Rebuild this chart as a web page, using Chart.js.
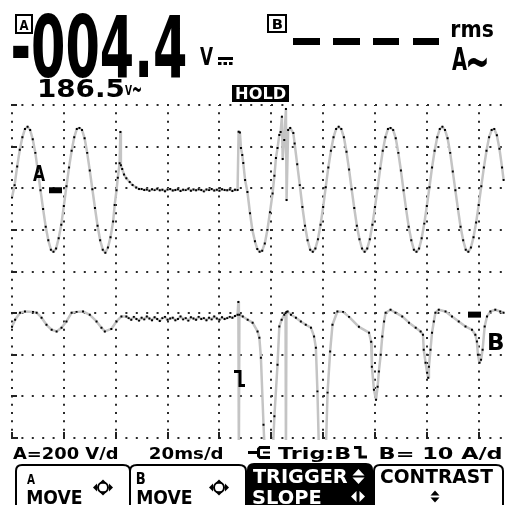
<!DOCTYPE html>
<html><head><meta charset="utf-8">
<script src="https://cdn.jsdelivr.net/npm/chart.js@4.4.1/dist/chart.umd.min.js"></script>
<style>html,body{margin:0;padding:0;background:#fff;overflow:hidden}canvas{display:block}</style>
</head><body>
<canvas id="c" width="505" height="505"></canvas>
<script>
// ---- time axis (ms), 20 ms / div ----
const xGridTicks = [0, 20, 40, 60, 80, 100, 120, 140, 160, 180];
const yGridTicks = [-4, -3, -2, -1, 0, 1, 2, 3, 4];
const voltsPerDivA = 200;   // A = 200 V/div
const ampsPerDivB = 10;     // B = 10 A/div
const zeroDivA = 2;         // A zero marker level (divisions)
const zeroDivB = -1;        // B zero marker level (divisions)

// ---- trace A : voltage (V) ----
const timeA = [0,1,2,3,4,5,6,7,8,9,10,11,12,13,14,15,16,17,18,19,20,21,22,23,24,25,26,27,28,29,30,31,32,33,34,35,36,37,38,39,
 39.6,40.3,40.8,41.5,41.8,42.0,42.5,43.2,44.1,45.4,46.5,47.9,49,
 50,51,52,53,54,55,56,57,58,59,60,61,62,63,64,65,66,67,68,69,70,71,72,73,74,75,76,77,78,79,80,81,82,83,84,85,86,
 87.0,87.4,87.9,88.3,88.8,89.2,89.9,90.8,91.8,92.7,93.7,94.6,95.5,96.5,97.5,98.5,99.5,100.5,101.2,101.8,102.4,103.1,103.6,104.1,104.4,105.0,105.65,105.9,106.5,107.3,108.5,
 109,110,111,112,113,114,115,116,117,118,119,120,121,122,123,124,125,126,127,128,129,130,131,132,133,134,135,136,137,138,
 139,140,141,142,143,144,145,146,147,148,149,150,151,152,153,154,155,156,157,158,159,160,161,162,163,164,165,166,167,168,
 169,170,171,172,173,174,175,176,177,178,179,180,181,182,183,184,185,186,187,188,189,189.6];
const voltA = [-45,15,105,185,245,285,295,280,235,170,80,-10,-100,-185,-250,-295,-305,-290,-240,-175,
 -85,10,100,180,245,285,290,280,240,170,85,-5,-95,-180,-250,-295,-310,-285,-235,-160,
 -80,-10,50,120,270,110,92,66,48,30,16,4,-4,
 -4,-8,-6,-12,-5,-9,-3,-10,-7,-14,-6,-4,-11,-8,-5,-13,-7,-9,-3,-12,-6,-10,-5,-8,-15,-6,-9,-4,-11,-7,-12,-5,-8,-10,-6,-13,-7,
 -8,272,268,193,160,121,40,-18,-120,-200,-255,-292,-305,-300,-265,-200,-115,-25,60,145,193,256,270,344,140,232,381,-56,280,290,265,
 215,115,15,-90,-180,-250,-295,-305,-290,-245,-175,-90,5,100,180,245,285,295,285,245,
 175,90,-5,-95,-180,-245,-290,-305,-290,-245,-175,-90,0,95,180,245,285,290,280,240,
 170,85,-10,-100,-185,-250,-295,-305,-290,-240,-170,-85,5,100,180,245,285,295,280,240,
 170,80,-10,-100,-185,-250,-295,-305,-285,-235,-165,-80,10,100,180,245,280,285,255,190,100,40];

// ---- trace B : current (A) ----
const timeB = [0,1.2,3.1,5.0,8.1,9.5,11.4,13.3,15.3,17.2,19.1,21.0,23.0,24.9,27.4,30.0,32.6,34.5,35.8,38.3,40.3,42.2,44.1,
 45,46,47,48,49,50,51,52,53,54,55,56,57,58,59,60,61,62,63,64,65,66,67,68,69,70,71,72,73,74,75,76,77,78,79,80,81,82,83,84,85,86,
 87.0,87.3,87.5,87.7,89.0,90.9,92.8,94.7,95.4,96.0,97.0,97.7,99.2,100.4,101.2,102.4,103.1,104.0,105.0,105.5,105.65,105.85,106.3,107.6,
 109.5,111.4,113.3,115.3,116.5,117.2,117.8,118.5,120.0,121.0,121.7,122.7,123.6,125.5,127.7,130.0,133.8,137.7,138.5,138.8,139.6,140.4,
 141.0,141.5,142.2,142.8,143.5,144.1,146.0,147.9,150.5,153.1,155.7,157.6,158.5,158.8,159.5,160.1,160.5,160.8,161.4,162.0,162.7,163.3,
 164.6,167.2,169.7,172.3,174.9,177.4,178.7,179.3,179.7,180.3,180.9,181.5,182.3,183.2,184.5,186.4,188.3,189.6];
const ampB = [-3.3,-1.6,0.1,0.4,0.3,0.1,-1.1,-2.8,-4.0,-4.4,-3.5,-2.0,0.1,0.3,0.4,-0.4,-2.0,-3.5,-4.4,-3.8,-2.0,-0.8,-0.8,
 -1.2,-1.6,-0.9,-1.4,-1.8,-1.1,-1.5,-0.8,-1.3,-1.7,-1.0,-1.4,-1.9,-1.2,-0.9,-1.6,-1.3,-1.1,-1.7,-1.4,-0.8,-1.5,-1.2,-1.8,-1.0,-1.3,-1.6,-0.9,-1.4,-1.2,-1.7,-1.1,-1.5,-0.8,-1.3,-1.6,-1.0,-1.4,-1.2,-0.9,-1.1,-0.7,
 -0.4,2.7,-36,-0.4,-0.8,-1.6,-2.3,-4.4,-5.9,-10.7,-26.8,-36,-38,-36,-24.8,-12.4,-3.2,-1.6,-0.4,0.0,-36,0.3,0.4,-0.4,
 -1.1,-2.0,-2.8,-3.5,-5.6,-8.3,-18.8,-36,-38,-34,-19.1,-9.2,-2.8,0.4,0.3,-0.9,-3.3,-4.7,-6.9,-12.9,-18.4,-20.8,
 -17.7,-14.0,-10.0,-5.6,-2.0,0.1,0.8,0.1,-0.8,-2.3,-3.5,-4.4,-5.2,-8.8,-11.9,-14.3,-15.5,-12.9,-8.8,-4.7,-2.0,0.1,
 0.8,0.4,-0.8,-2.0,-3.2,-4.0,-5.2,-6.8,-10.0,-11.9,-11.2,-8.8,-3.2,-0.8,0.4,0.8,0.4,0.1];

// ---- readout texts ----
const readA = '-004.4';
const readA2 = '186.5';
const infoTexts = ['A=200 V/d', '20ms/d', 'Trig:B', 'B= 10 A/d'];
const softKeys = [['A', 'MOVE'], ['B', 'MOVE'], ['TRIGGER', 'SLOPE'], ['CONTRAST', '']];

// build datasets
function build(ts, vs, perDiv, zero) {
  const n = Math.min(ts.length, vs.length);
  const out = [];
  for (let i = 0; i < n; i++) out.push({x: ts[i], y: zero + vs[i] / perDiv});
  return out;
}
const dataA = build(timeA, voltA, voltsPerDivA, zeroDivA);
const dataB = build(timeB, ampB, ampsPerDivB, zeroDivB);

const F = '"DejaVu Sans", "Liberation Sans", sans-serif';
function fit(ctx, s, x1, x2, base, size, color) {
  ctx.save();
  ctx.font = 'bold ' + size + 'px ' + F;
  const m = ctx.measureText(s);
  const w = m.actualBoundingBoxLeft + m.actualBoundingBoxRight;
  const sx = (x2 - x1) / w;
  ctx.translate(x1 + m.actualBoundingBoxLeft * sx, base);
  ctx.scale(sx, 1);
  ctx.fillStyle = color || '#000';
  ctx.fillText(s, 0, 0);
  ctx.restore();
}
function fitBox(ctx, s, x1, y1, x2, y2, color) {
  ctx.save();
  ctx.font = 'bold 100px ' + F;
  const m = ctx.measureText(s);
  const w = m.actualBoundingBoxLeft + m.actualBoundingBoxRight;
  const h = m.actualBoundingBoxAscent + m.actualBoundingBoxDescent;
  const sx = (x2 - x1) / w, sy = (y2 - y1) / h;
  ctx.translate(x1 + m.actualBoundingBoxLeft * sx, y1 + m.actualBoundingBoxAscent * sy);
  ctx.scale(sx, sy);
  ctx.fillStyle = color || '#000';
  ctx.fillText(s, 0, 0);
  ctx.restore();
}
function tri(ctx, pts, color) {
  ctx.beginPath(); ctx.moveTo(pts[0], pts[1]); ctx.lineTo(pts[2], pts[3]); ctx.lineTo(pts[4], pts[5]); ctx.closePath();
  ctx.fillStyle = color; ctx.fill();
}
function moveIcon(ctx, cx, cy) {
  ctx.save();
  ctx.strokeStyle = '#000'; ctx.lineWidth = 2;
  ctx.beginPath(); ctx.arc(cx, cy, 5, 0, Math.PI * 2); ctx.stroke();
  tri(ctx, [cx - 10, cy, cx - 6, cy - 4, cx - 6, cy + 4], '#000');
  tri(ctx, [cx + 10, cy, cx + 6, cy - 4, cx + 6, cy + 4], '#000');
  tri(ctx, [cx, cy - 8, cx - 4, cy - 4, cx + 4, cy - 4], '#000');
  tri(ctx, [cx, cy + 8, cx - 4, cy + 4, cx + 4, cy + 4], '#000');
  ctx.restore();
}

const gridExtras = {
  id: 'gridExtras',
  beforeDatasetsDraw(chart) {
    const ctx = chart.ctx, xs = chart.scales.x, ys = chart.scales.y, a = chart.chartArea;
    ctx.save();
    ctx.fillStyle = '#222';
    yGridTicks.forEach(v => { const y = Math.round(ys.getPixelForValue(v)); ctx.fillRect(a.left - 1, y - 1, 6, 2); });
    xGridTicks.forEach(v => { const x = Math.round(xs.getPixelForValue(v)); ctx.fillRect(x - 1, a.bottom - 6, 2, 7); });
    ctx.fillRect(a.left - 1, a.bottom - 1, 7, 2);
    ctx.restore();
  },
  afterDraw(chart) {
    const ctx = chart.ctx, ys = chart.scales.y, xs = chart.scales.x;
    ctx.save();
    // --- top readout A ---
    ctx.strokeStyle = '#000'; ctx.lineWidth = 2;
    ctx.strokeRect(16, 15, 16, 18);
    fitBox(ctx, 'A', 19.5, 19, 28.5, 30);
    fitBox(ctx, readA, 13, 13, 185, 78);
    fitBox(ctx, 'V', 200, 47, 213, 65);
    ctx.fillStyle = '#000';
    ctx.fillRect(218, 57, 15, 3);
    for (let k = 0; k < 3; k++) ctx.fillRect(218 + k * 5.5, 62, 3.5, 3);
    fitBox(ctx, readA2, 40, 78, 123, 97);
    fitBox(ctx, 'V', 125, 85, 132, 95);
    fitBox(ctx, '~', 133, 87, 141, 93);
    // HOLD
    ctx.fillStyle = '#000'; ctx.fillRect(232, 85, 57, 17);
    fitBox(ctx, 'HOLD', 236.5, 87.5, 285.5, 99.5, '#fff');
    // --- top readout B ---
    ctx.strokeRect(268, 15, 18, 17);
    fitBox(ctx, 'B', 273, 19, 282, 29);
    ctx.fillStyle = '#000';
    [[293, 27], [333, 27], [373, 26], [413, 26]].forEach(d => ctx.fillRect(d[0], 38, d[1], 7));
    fitBox(ctx, 'rms', 452, 24, 493, 37);
    fitBox(ctx, 'A', 452, 47, 467, 70.5);
    fitBox(ctx, '~', 468, 57, 487, 68);
    // --- trace markers ---
    const yA0 = ys.getPixelForValue(zeroDivA), yB0 = ys.getPixelForValue(zeroDivB);
    ctx.fillStyle = '#000';
    ctx.fillRect(49, yA0 - 1, 13, 6);
    fitBox(ctx, 'A', 33, yA0 - 23, 45, yA0 - 7);
    ctx.fillRect(468, yB0 - 1.5, 13, 6);
    fitBox(ctx, 'B', 489, yB0 + 20, 503, yB0 + 37);
    // trigger marker
    ctx.strokeStyle = '#000'; ctx.lineWidth = 3;
    ctx.beginPath(); ctx.moveTo(234, 371.5); ctx.lineTo(240, 371.5); ctx.lineTo(240, 385.5); ctx.lineTo(245, 385.5); ctx.stroke();
    // --- info line ---
    fit(ctx, infoTexts[0], 13, 118, 458.5, 16);
    fit(ctx, infoTexts[1], 150, 223, 458.5, 16);
    ctx.lineWidth = 3;
    ctx.beginPath(); ctx.moveTo(248, 452.5); ctx.lineTo(257, 452.5); ctx.stroke();
    ctx.beginPath(); ctx.moveTo(270, 447.5); ctx.lineTo(260, 447.5); ctx.lineTo(258.5, 449); ctx.lineTo(258.5, 456); ctx.lineTo(260, 457.5); ctx.lineTo(270, 457.5); ctx.stroke();
    ctx.lineWidth = 2;
    ctx.beginPath(); ctx.moveTo(263, 452.5); ctx.lineTo(270, 452.5); ctx.stroke();
    fit(ctx, infoTexts[2], 278, 351, 458.5, 16);
    ctx.lineWidth = 3;
    ctx.beginPath(); ctx.moveTo(354, 447.5); ctx.lineTo(360, 447.5); ctx.lineTo(360, 457); ctx.lineTo(367, 457); ctx.stroke();
    fit(ctx, infoTexts[3], 380, 502, 458.5, 16);
    // --- soft keys ---
    ctx.lineWidth = 2; ctx.strokeStyle = '#000';
    ctx.beginPath();
    ctx.moveTo(16, 506); ctx.lineTo(16, 471); ctx.quadraticCurveTo(16, 465, 22, 465); ctx.lineTo(123, 465); ctx.quadraticCurveTo(130, 465, 130, 471); ctx.lineTo(130, 506);
    ctx.moveTo(130, 471); ctx.quadraticCurveTo(130, 465, 137, 465); ctx.lineTo(239, 465); ctx.quadraticCurveTo(246, 465, 246, 471); ctx.lineTo(246, 506);
    ctx.moveTo(374, 506); ctx.lineTo(374, 471); ctx.quadraticCurveTo(374, 465, 380, 465); ctx.lineTo(496, 465); ctx.quadraticCurveTo(503, 465, 503, 471); ctx.lineTo(503, 506);
    ctx.stroke();
    ctx.fillStyle = '#000';
    ctx.beginPath(); ctx.moveTo(247, 506); ctx.lineTo(247, 470); ctx.quadraticCurveTo(247, 463, 254, 463); ctx.lineTo(366, 463); ctx.quadraticCurveTo(373, 463, 373, 470); ctx.lineTo(373, 506); ctx.closePath(); ctx.fill();
    fitBox(ctx, softKeys[0][0], 27, 473, 35, 484);
    fit(ctx, softKeys[0][1], 27, 82, 504, 20);
    moveIcon(ctx, 103, 487.5);
    fitBox(ctx, softKeys[1][0], 137, 473, 145, 484);
    fit(ctx, softKeys[1][1], 137, 192, 504, 20);
    moveIcon(ctx, 219, 487.5);
    fit(ctx, softKeys[2][0], 253, 348, 482.5, 19, '#fff');
    tri(ctx, [358.5, 469, 352.5, 475.5, 364.5, 475.5], '#fff');
    tri(ctx, [352.5, 477.5, 364.5, 477.5, 358.5, 484], '#fff');
    fit(ctx, softKeys[2][1], 253, 321, 504, 20, '#fff');
    tri(ctx, [351, 496.5, 356.5, 491, 356.5, 502], '#fff');
    tri(ctx, [365, 496.5, 359.5, 491, 359.5, 502], '#fff');
    fit(ctx, softKeys[3][0], 380, 493, 482.5, 19);
    tri(ctx, [435, 490.5, 430.5, 495.5, 439.5, 495.5], '#000');
    tri(ctx, [430.5, 497.5, 439.5, 497.5, 435, 502.5], '#000');
    ctx.restore();
  }
};

const traceStyle = {
  borderColor: '#c4c4c4', borderWidth: 2.5, borderJoinStyle: 'round',
  pointStyle: 'rect', pointRadius: 1.4, pointHoverRadius: 0,
  pointBackgroundColor: '#000', pointBorderWidth: 0,
  tension: 0, clip: 2, fill: false
};

new Chart(document.getElementById('c'), {
  type: 'line',
  data: { datasets: [
    Object.assign({ label: 'A', data: dataA }, traceStyle),
    Object.assign({ label: 'B', data: dataB }, traceStyle)
  ]},
  options: {
    responsive: false, animation: false, devicePixelRatio: 1,
    layout: { padding: { left: 12, top: 105, right: 0, bottom: 67 } },
    plugins: { legend: { display: false }, tooltip: { enabled: false }, title: { display: false } },
    events: [],
    scales: {
      x: {
        type: 'linear', min: 0, max: 189.6,
        afterBuildTicks: ax => { ax.ticks = xGridTicks.map(v => ({ value: v })); },
        ticks: { display: false },
        grid: { color: '#2a2a2a', lineWidth: 2, drawTicks: false },
        border: { display: false, dash: [2, 6.325], dashOffset: 1 }
      },
      y: {
        type: 'linear', min: -4, max: 4,
        afterBuildTicks: ax => { ax.ticks = yGridTicks.map(v => ({ value: v })); },
        ticks: { display: false },
        grid: { color: '#2a2a2a', lineWidth: 2, drawTicks: false },
        border: { display: false, dash: [2, 8.4], dashOffset: 1 }
      }
    }
  },
  plugins: [gridExtras]
});
</script>
</body></html>
